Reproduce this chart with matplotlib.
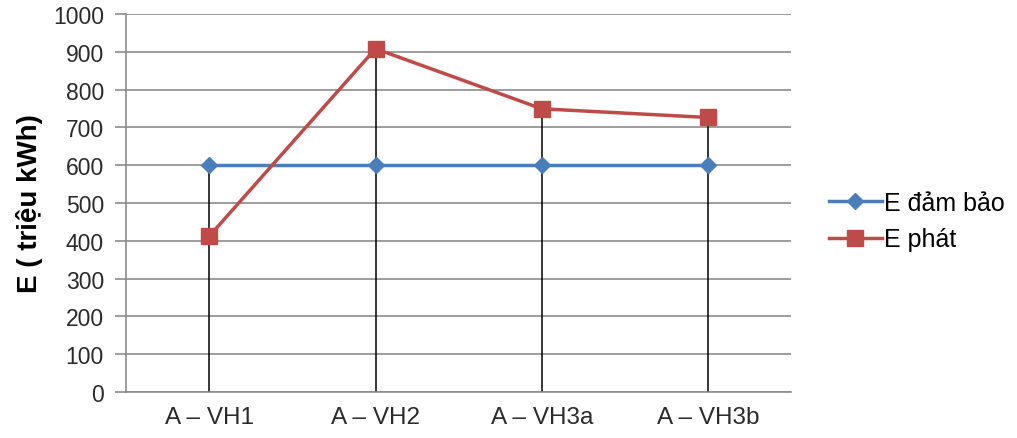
import matplotlib
matplotlib.use("Agg")
import matplotlib.pyplot as plt
import numpy as np

plt.rcParams['font.family'] = ['Liberation Sans', 'DejaVu Sans']

categories = ["A – VH1", "A – VH2", "A – VH3a", "A – VH3b"]
e_dam_bao = [600, 600, 600, 600]
e_phat = [412, 908, 749, 726]
yticks = list(range(0, 1001, 100))

blue = "#4a7ebb"
red = "#be4b48"
grid_col = "#8c8c8c"

fig = plt.figure(figsize=(10.17, 4.39), dpi=100)
ax = fig.add_axes([0.124, 0.105, 0.654, 0.861])

x = np.arange(len(categories))

# drop lines from the axis up to the higher of the two series
tops = np.maximum(e_dam_bao, e_phat)
ax.vlines(x, 0, tops, color="black", lw=1.1, zorder=2)

ax.plot(x, e_dam_bao, color=blue, lw=2.5, marker="D", ms=8.5,
        label="E đảm bảo", zorder=3)
ax.plot(x, e_phat, color=red, lw=2.5, marker="s", ms=12,
        label="E phát", zorder=4)

ax.set_xlim(-0.5, len(categories) - 0.5)
ax.set_ylim(0, 1000)
ax.set_yticks(yticks)
ax.set_xticks(x, categories)
ax.tick_params(axis="y", labelsize=16.5, labelcolor="#2b2b2b", length=8,
               width=1.2, color=grid_col, pad=8)
ax.tick_params(axis="x", labelsize=17.5, labelcolor="#2b2b2b", length=0,
               pad=10)
ax.yaxis.grid(True, color=grid_col, lw=1.2)
ax.set_axisbelow(True)

for side in ("top", "right"):
    ax.spines[side].set_visible(False)
for side in ("left", "bottom"):
    ax.spines[side].set_color(grid_col)
    ax.spines[side].set_linewidth(1.2)

ax.set_ylabel("E ( triệu kWh)", fontsize=20, fontweight="bold")
ax.yaxis.set_label_coords(-0.125, 0.5)

ax.legend(loc="center left", bbox_to_anchor=(1.023, 0.452), frameon=False,
          fontsize=18, handlelength=2.1, handletextpad=0.1,
          labelspacing=0.5)

fig.savefig("out.png", dpi=100)
